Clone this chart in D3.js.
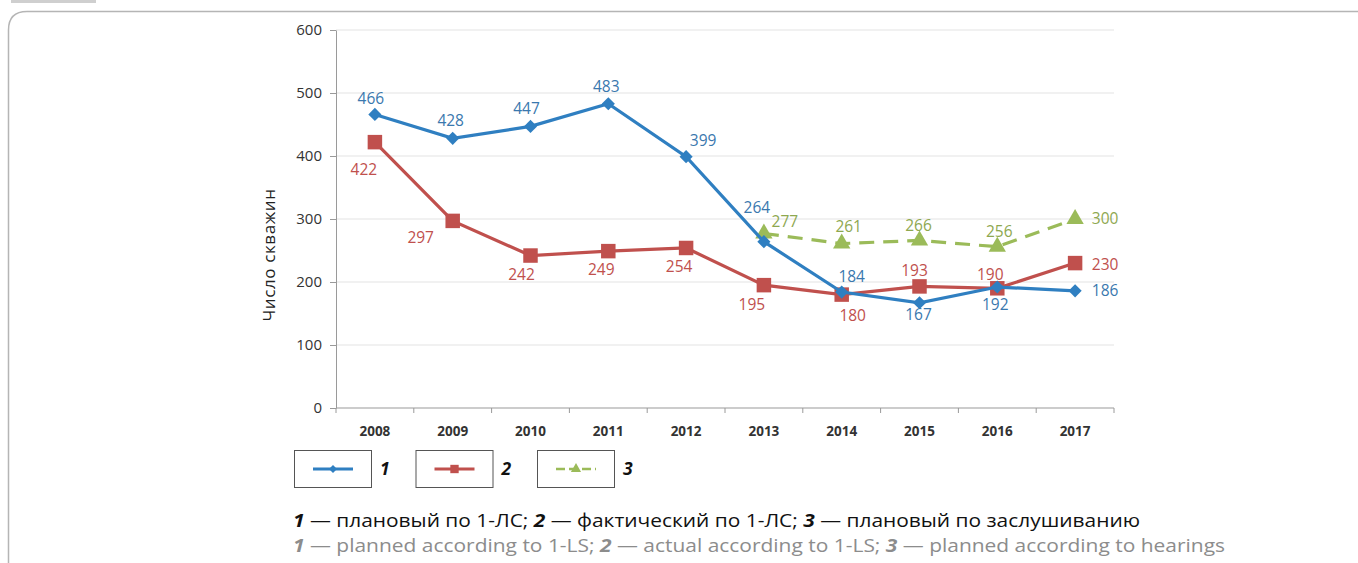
<!DOCTYPE html>
<html>
<head>
<meta charset="utf-8">
<script src="https://cdn.jsdelivr.net/npm/d3@7"></script>
<style>
  body { margin: 0; background: #fff; }
  text { font-family: "Open Sans", sans-serif; }
</style>
</head>
<body>
<div id="wrapper"></div>
<script>
// data
const years = ["2008","2009","2010","2011","2012","2013","2014","2015","2016","2017"];
const plan1LS = [466, 428, 447, 483, 399, 264, 184, 167, 192, 186];
const fact1LS = [422, 297, 242, 249, 254, 195, 180, 193, 190, 230];
const planHearingYears = ["2013","2014","2015","2016","2017"];
const planHearing = [277, 261, 266, 256, 300];
const yTicks = [0, 100, 200, 300, 400, 500, 600];

// label offsets (dx, dy from point) so they don't collide
const offBlue = [[-4,-16],[-2,-18],[-4,-18],[-2,-17],[17,-16],[-7,-34],[10,-16],[-1,12],[-2,18],[30,0]];
const offRed = [[-11,27],[-32,17],[-9,19],[-7,18],[-7,19],[-12,19],[11,21],[-5,-16],[-7,-14],[30,1]];
const offGreen = [[21,-12],[7,-17],[-1,-15],[2,-15],[30,0]];

const colors = { blue: "#2f7fc1", red: "#c0504d", green: "#9bbb59" };
const textColors = { blue: "#3a78ae", red: "#c0504d", green: "#8ea850" };

const dimensions = {
  width: 1358,
  height: 563,
  margin: { top: 30, left: 336, right: 244, bottom: 155 }
};
dimensions.boundedWidth = dimensions.width - dimensions.margin.left - dimensions.margin.right;
dimensions.boundedHeight = dimensions.height - dimensions.margin.top - dimensions.margin.bottom;

const svg = d3.select("#wrapper").append("svg")
  .attr("width", dimensions.width)
  .attr("height", dimensions.height);

// page frame
svg.append("rect").attr("x", 11).attr("y", 0).attr("width", 85).attr("height", 3).attr("fill", "#cfcfcf");
svg.append("path")
  .attr("d", "M8.5,563 L8.5,30 Q8.5,11.5 27,11.5 L1358,11.5")
  .attr("fill", "none").attr("stroke", "#b5b5b5").attr("stroke-width", 1.5);

const bounds = svg.append("g")
  .attr("transform", `translate(${dimensions.margin.left},${dimensions.margin.top})`);

const xScale = d3.scaleBand().domain(years).range([0, dimensions.boundedWidth]);
const yScale = d3.scaleLinear().domain([0, 600]).range([dimensions.boundedHeight, 0]);
const cx = d => xScale(d) + xScale.bandwidth() / 2;

// grid
bounds.append("g").selectAll("line")
  .data(yTicks.filter(t => t > 0))
  .join("line")
  .attr("x1", 0).attr("x2", dimensions.boundedWidth)
  .attr("y1", d => yScale(d)).attr("y2", d => yScale(d))
  .attr("stroke", "#e4e4e4").attr("stroke-width", 1.2);

// y axis
const yAxis = bounds.append("g")
  .call(d3.axisLeft(yScale).tickValues(yTicks).tickSize(6).tickPadding(8).tickSizeOuter(0));
yAxis.select(".domain").attr("stroke", "#9a9a9a");
yAxis.selectAll(".tick line").attr("stroke", "#9a9a9a");
yAxis.selectAll("text").attr("font-size", 15).attr("fill", "#333").attr("font-family", "Open Sans");

// x axis with ticks at category boundaries
const xAxisG = bounds.append("g").attr("transform", `translate(0,${dimensions.boundedHeight})`);
xAxisG.append("line").attr("x1", 0).attr("x2", dimensions.boundedWidth)
  .attr("stroke", "#9a9a9a").attr("stroke-width", 1.2);
xAxisG.selectAll(".btick")
  .data(years.concat(["end"]))
  .join("line")
  .attr("x1", (d, i) => i < years.length ? xScale(d) : dimensions.boundedWidth)
  .attr("x2", (d, i) => i < years.length ? xScale(d) : dimensions.boundedWidth)
  .attr("y1", 0).attr("y2", 5)
  .attr("stroke", "#9a9a9a");
xAxisG.selectAll(".ylab")
  .data(years)
  .join("text")
  .attr("x", d => cx(d))
  .attr("y", 28)
  .attr("text-anchor", "middle")
  .attr("font-size", 13.5)
  .attr("font-weight", 700)
  .attr("fill", "#333")
  .text(d => d);

// y title
svg.append("text")
  .attr("transform", "translate(275,255) rotate(-90)")
  .attr("text-anchor", "middle")
  .attr("font-size", 17)
  .attr("letter-spacing", 0.6)
  .attr("fill", "#222")
  .text("Число  скважин");

const line = d3.line().x(d => cx(d.x)).y(d => yScale(d.y));

function drawSeries(xs, ys, color, tColor, offsets, marker, dashed) {
  const pts = xs.map((x, i) => ({ x, y: ys[i] }));
  bounds.append("path")
    .datum(pts)
    .attr("d", line)
    .attr("fill", "none")
    .attr("stroke", color)
    .attr("stroke-width", 3.2)
    .attr("stroke-dasharray", dashed ? "15,9" : null);
  bounds.append("g").selectAll("path")
    .data(pts)
    .join("path")
    .attr("transform", d => `translate(${cx(d.x)},${yScale(d.y)})`)
    .attr("d", d3.symbol().type(marker.type).size(marker.size))
    .attr("fill", color);
  bounds.append("g").selectAll("text")
    .data(pts)
    .join("text")
    .attr("x", (d, i) => cx(d.x) + offsets[i][0])
    .attr("y", (d, i) => yScale(d.y) + offsets[i][1])
    .attr("dy", "0.35em")
    .attr("text-anchor", "middle")
    .attr("font-size", 15.5)
    .attr("fill", tColor)
    .text(d => d.y);
}

const diamond = { type: d3.symbolDiamond2, size: 110 };
const square = { type: d3.symbolSquare, size: 210 };
const triangle = { type: d3.symbolTriangle, size: 130 };

drawSeries(planHearingYears, planHearing, colors.green, textColors.green, offGreen, triangle, true);
drawSeries(years, fact1LS, colors.red, textColors.red, offRed, square, false);
drawSeries(years, plan1LS, colors.blue, textColors.blue, offBlue, diamond, false);

// legend boxes
const legendItems = [
  { label: "1", color: colors.blue, marker: { type: d3.symbolDiamond2, size: 40 }, dashed: false, width: 3 },
  { label: "2", color: colors.red, marker: { type: d3.symbolSquare, size: 70 }, dashed: false, width: 3 },
  { label: "3", color: colors.green, marker: { type: d3.symbolTriangle, size: 45 }, dashed: true, width: 2.5 }
];
const legend = svg.append("g").attr("transform", "translate(294,450)");
const item = legend.selectAll("g").data(legendItems).join("g")
  .attr("transform", (d, i) => `translate(${i * 121.5},0)`);
item.append("rect")
  .attr("x", 0.5).attr("y", 0.5).attr("width", 77).attr("height", 37)
  .attr("fill", "#fff").attr("stroke", "#555").attr("stroke-width", 1);
item.append("line")
  .attr("x1", 19).attr("x2", 59).attr("y1", 19).attr("y2", 19)
  .attr("stroke", d => d.color).attr("stroke-width", d => d.width)
  .attr("stroke-dasharray", d => d.dashed ? "9,4" : null);
item.append("path")
  .attr("transform", "translate(39,19)")
  .attr("d", d => d3.symbol().type(d.marker.type).size(d.marker.size)())
  .attr("fill", d => d.color);
item.append("text")
  .attr("x", 86).attr("y", 25)
  .attr("font-size", 17.5).attr("font-weight", 700).attr("font-style", "italic")
  .attr("fill", "#111")
  .text(d => d.label);

// captions
const captionRu = [["1", true], [" — плановый по 1-ЛС; ", false], ["2", true], [" — фактический по 1-ЛС; ", false], ["3", true], [" — плановый по заслушиванию", false]];
const captionEn = [["1", true], [" — planned according to 1-LS; ", false], ["2", true], [" — actual according to 1-LS; ", false], ["3", true], [" — planned according to hearings", false]];

function caption(parts, y, fill, len) {
  const t = svg.append("text")
    .attr("x", 293).attr("y", y)
    .attr("font-size", 18.5)
    .attr("fill", fill)
    .attr("textLength", len)
    .attr("lengthAdjust", "spacingAndGlyphs");
  t.selectAll("tspan").data(parts).join("tspan")
    .attr("font-weight", d => d[1] ? 700 : 400)
    .attr("font-style", d => d[1] ? "italic" : "normal")
    .text(d => d[0]);
}
caption(captionRu, 527, "#111", 847);
caption(captionEn, 552, "#8c8c8c", 932);
</script>
</body>
</html>
